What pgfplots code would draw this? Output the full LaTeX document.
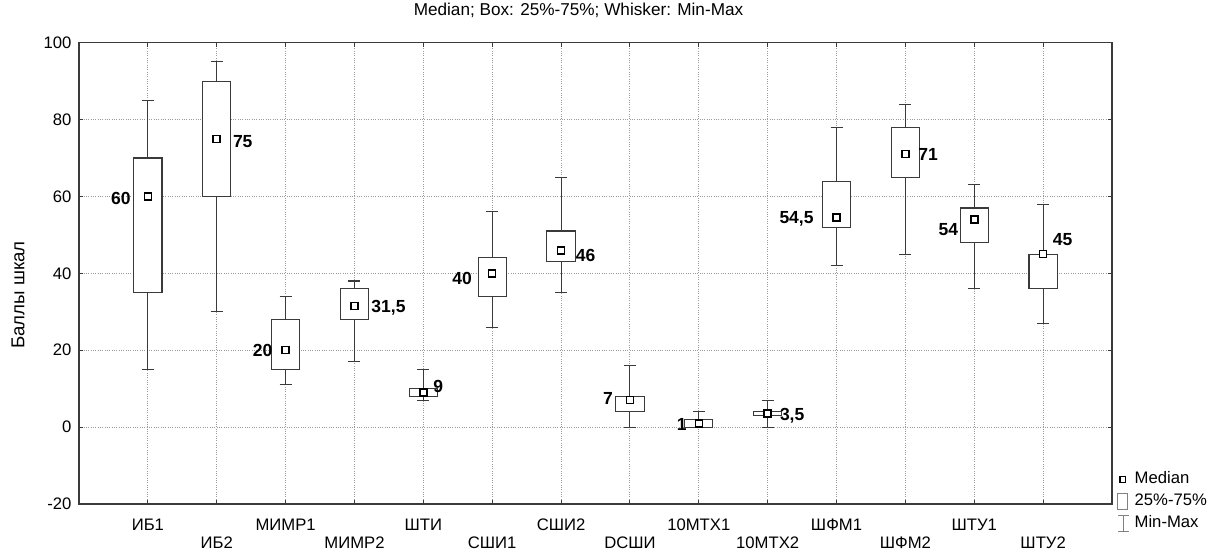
\documentclass[border=0pt]{standalone}
\usepackage{fontspec}
\setmainfont{Liberation Sans}
\usepackage{pgfplots}
\pgfplotsset{compat=1.18}
\usepgfplotslibrary{statistics}
\definecolor{lc}{HTML}{3A3A3A}
\definecolor{gc}{HTML}{9A9A9A}
\begin{document}
\begin{tikzpicture}
\begin{axis}[
  name=ax,
  scale only axis, width=619.8pt, height=276.8pt,
  xmin=-1, xmax=14, ymin=-20, ymax=100,
  ytick={-20,0,20,40,60,80,100},
  yticklabels={-20,0,20,40,60,80,100},
  xtick={0,2,4,6,8,10,12},
  xticklabels={ИБ1,МИМР1,ШТИ,СШИ2,10МТХ1,ШФМ1,ШТУ1},
  extra x ticks={1,3,5,7,9,11,13},
  extra x tick labels={ИБ2,МИМР2,СШИ1,DСШИ,10МТХ2,ШФМ2,ШТУ2},
  extra x tick style={grid=major, xticklabel style={yshift=-10.8pt}},
  xticklabel style={yshift=-5.4pt},
  yticklabel style={xshift=-1pt},
  grid=major,
  major grid style={densely dotted, gc, line width=0.6pt},
  axis line style={lc, line width=0.8pt},
  tick style={lc, line width=0.6pt},
  tick align=inside, major tick length=2.4pt,
  title={Median; Box: 25\%-75\%; Whisker: Min-Max},
  title style={at={(axis description cs:0.5,1)}, anchor=center, yshift=13.6pt, xshift=-10.2pt, font=\fontsize{10.3}{12}\selectfont},
  ylabel={Баллы шкал},
  ylabel style={at={(axis description cs:-0.059,0.453)}, anchor=center, font=\fontsize{11.2}{13}\selectfont},
  boxplot/draw direction=y,
  boxplot/box extend=0.41,
  boxplot/whisker extend=0.175,
  boxplot/draw/median/.code={},
  legend style={at={(axis description cs:1.0045,0.078)}, anchor=north west, draw=none, fill=none,
    inner sep=0pt, row sep=0pt, nodes={inner sep=1.2pt, text height=8pt, text depth=2.8pt}},
  legend cell align=left,
]
\pgfplotsset{bx/.style={forget plot, solid, draw=lc, fill=white, line width=0.65pt, boxplot/draw direction=y}}
\addplot[bx, boxplot prepared={draw position=0, lower whisker=15, lower quartile=35, median=60, upper quartile=70, upper whisker=85}] coordinates {};
\addplot[bx, boxplot prepared={draw position=1, lower whisker=30, lower quartile=60, median=75, upper quartile=90, upper whisker=95}] coordinates {};
\addplot[bx, boxplot prepared={draw position=2, lower whisker=11, lower quartile=15, median=20, upper quartile=28, upper whisker=34}] coordinates {};
\addplot[bx, boxplot prepared={draw position=3, lower whisker=17, lower quartile=28, median=31.5, upper quartile=36, upper whisker=38}] coordinates {};
\addplot[bx, boxplot prepared={draw position=4, lower whisker=7, lower quartile=8, median=9, upper quartile=10, upper whisker=15}] coordinates {};
\addplot[bx, boxplot prepared={draw position=5, lower whisker=26, lower quartile=34, median=40, upper quartile=44, upper whisker=56}] coordinates {};
\addplot[bx, boxplot prepared={draw position=6, lower whisker=35, lower quartile=43, median=46, upper quartile=51, upper whisker=65}] coordinates {};
\addplot[bx, boxplot prepared={draw position=7, lower whisker=0, lower quartile=4, median=7, upper quartile=8, upper whisker=16}] coordinates {};
\addplot[bx, boxplot prepared={draw position=8, lower whisker=0, lower quartile=0, median=1, upper quartile=2, upper whisker=4}] coordinates {};
\addplot[bx, boxplot prepared={draw position=9, lower whisker=0, lower quartile=3, median=3.5, upper quartile=4, upper whisker=7}] coordinates {};
\addplot[bx, boxplot prepared={draw position=10, lower whisker=42, lower quartile=52, median=54.5, upper quartile=64, upper whisker=78}] coordinates {};
\addplot[bx, boxplot prepared={draw position=11, lower whisker=45, lower quartile=65, median=71, upper quartile=78, upper whisker=84}] coordinates {};
\addplot[bx, boxplot prepared={draw position=12, lower whisker=36, lower quartile=48, median=54, upper quartile=57, upper whisker=63}] coordinates {};
\addplot[bx, boxplot prepared={draw position=13, lower whisker=27, lower quartile=36, median=45, upper quartile=45, upper whisker=58}] coordinates {};
% medians
\addplot[forget plot, only marks, mark=square*, mark size=2.1pt, mark options={fill=white, draw=black, line width=0.9pt}]
 coordinates {(0,60) (1,75) (2,20) (3,31.5) (4,9) (5,40) (6,46) (7,7) (8,1) (9,3.5) (10,54.5) (11,71) (12,54) (13,45)};
% value labels
\begin{scope}[every node/.style={font=\fontsize{10.5}{12}\selectfont\bfseries, inner sep=0pt, anchor=center}]
\node at (axis cs:0,59.4) [xshift=-16.2pt] {60};
\node at (axis cs:1,74.4) [xshift=15.6pt] {75};
\node at (axis cs:2,20) [xshift=-13.8pt] {20};
\node at (axis cs:3,31) [xshift=20.4pt] {31,5};
\node at (axis cs:4,10.6) [xshift=9pt] {9};
\node at (axis cs:5,38.7) [xshift=-18pt] {40};
\node at (axis cs:6,44.7) [xshift=14.7pt] {46};
\node at (axis cs:7,7.4) [xshift=-13.2pt] {7};
\node at (axis cs:8,0.75) [xshift=-10.2pt] {1};
\node at (axis cs:9,3) [xshift=14.7pt] {3,5};
\node at (axis cs:10,54.3) [xshift=-24pt] {54,5};
\node at (axis cs:11,71) [xshift=13.6pt] {71};
\node at (axis cs:12,51.5) [xshift=-15.6pt] {54};
\node at (axis cs:13,48.8) [xshift=11.7pt] {45};
\end{scope}
% legend
\addlegendimage{legend image code/.code={\path (0pt,0pt) (9pt,0pt); \draw[black, line width=0.8pt, fill=white] (1.7pt,-1.7pt) rectangle (5.1pt,1.7pt);}}
\addlegendentry{Median}
\addlegendimage{legend image code/.code={\path (0pt,0pt) (9pt,0pt); \draw[gray, line width=0.6pt, fill=white] (0.3pt,-5pt) rectangle (6.3pt,5pt);}}
\addlegendentry{25\%-75\%}
\addlegendimage{legend image code/.code={\path (0pt,0pt) (9pt,0pt); \draw[gray, line width=0.6pt] (0.3pt,-4.8pt) -- (7pt,-4.8pt) (3.6pt,-4.8pt) -- (3.6pt,4.8pt) (0.3pt,4.8pt) -- (7pt,4.8pt);}}
\addlegendentry{Min-Max}
\end{axis}
\pgfresetboundingbox
\path ([shift={(-47.4pt,-28.8pt)}]ax.south west) rectangle ++(727.2pt,331.2pt);
\end{tikzpicture}
\end{document}
